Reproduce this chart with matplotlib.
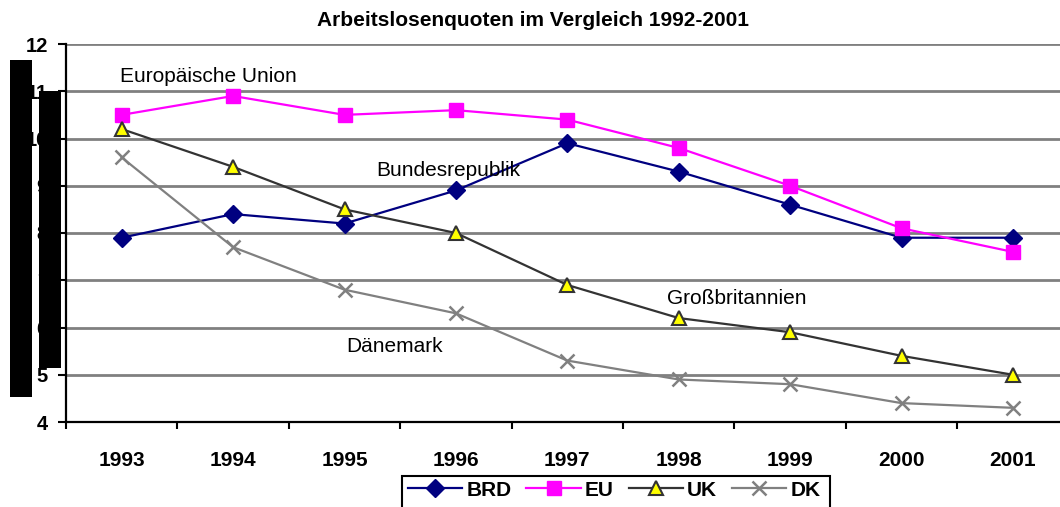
import matplotlib
matplotlib.use("Agg")
import matplotlib.pyplot as plt
from matplotlib.patches import Rectangle
from matplotlib.ticker import FixedLocator

plt.rcParams['font.family'] = ['Liberation Sans', 'DejaVu Sans']

years = ['1993', '1994', '1995', '1996', '1997', '1998', '1999', '2000', '2001']
brd = [7.9, 8.4, 8.2, 8.9, 9.9, 9.3, 8.6, 7.9, 7.9]
eu = [10.5, 10.9, 10.5, 10.6, 10.4, 9.8, 9.0, 8.1, 7.6]
uk = [10.2, 9.4, 8.5, 8.0, 6.9, 6.2, 5.9, 5.4, 5.0]
dk = [9.6, 7.7, 6.8, 6.3, 5.3, 4.9, 4.8, 4.4, 4.3]
yticks = [4, 5, 6, 7, 8, 9, 10, 11, 12]

W, H = 1060, 507
fig = plt.figure(figsize=(W / 100, H / 100), dpi=100)
ax = fig.add_axes([66 / W, 1 - 422 / H, 1002.6 / W, (422 - 44) / H])

x = list(range(len(years)))
ax.plot(x, brd, color='#000080', lw=1.6, marker='D', ms=9.5, mfc='#000080', mec='#000080', label='BRD', zorder=3)
ax.plot(x, eu, color='#FF00FF', lw=1.6, marker='s', ms=10.5, mfc='#FF00FF', mec='#FF00FF', label='EU', zorder=3)
ax.plot(x, uk, color='#333333', lw=1.6, marker='^', ms=10.5, mfc='#FFFF00', mec='#333333', mew=1.5, label='UK', zorder=3)
ax.plot(x, dk, color='#808080', lw=1.6, marker='x', ms=10.5, mew=1.8, label='DK', zorder=3)

ax.set_xlim(-0.5, len(years) - 0.5)
ax.set_ylim(4, 12)
ax.set_yticks(yticks)
ax.set_yticklabels([str(v) for v in yticks], fontsize=14.5, fontweight='bold')
ax.set_xticks(x)
ax.set_xticklabels(years, fontsize=15, fontweight='bold')
ax.tick_params(axis='x', which='major', length=0, pad=21)
ax.xaxis.set_minor_locator(FixedLocator([i - 0.5 for i in range(len(years) + 1)]))
ax.tick_params(axis='x', which='minor', length=5, width=1.5, direction='out')
ax.tick_params(axis='y', length=6, width=1.5, direction='out', pad=7)

for v in yticks[1:]:
    ax.axhline(v, color='#808080', lw=2, zorder=1)

for s in ['top', 'right']:
    ax.spines[s].set_visible(False)
for s in ['left', 'bottom']:
    ax.spines[s].set_linewidth(1.6)
    ax.spines[s].set_color('black')

fig.text(533 / W, 1 - 21 / H, 'Arbeitslosenquoten im Vergleich 1992-2001', ha='center', va='center',
         fontsize=15, fontweight='bold')

ann = [('Europäische Union', 120, 77), ('Bundesrepublik', 376, 171),
       ('Großbritannien', 667, 299), ('Dänemark', 346, 347)]
for t, px, py in ann:
    fig.text(px / W, 1 - py / H, t, ha='left', va='center', fontsize=15)

leg = fig.legend(loc='center left', bbox_to_anchor=(408 / W, 1 - 490 / H), ncol=4,
                 prop={'weight': 'bold', 'size': 15}, frameon=False, handlelength=2.6,
                 handletextpad=0.2, columnspacing=0.72, borderpad=0, borderaxespad=0)

fig.patches.append(Rectangle((402 / W, -0.05), (830 - 402) / W, (1 - 476 / H) + 0.05,
                             transform=fig.transFigure, facecolor='none', edgecolor='black',
                             lw=1.5, zorder=5))

fig.patches.append(Rectangle((10 / W, 1 - 397 / H), 22 / W, 337 / H, transform=fig.transFigure,
                             facecolor='black', edgecolor='none', zorder=10))
fig.patches.append(Rectangle((39 / W, 1 - 368 / H), 22 / W, 277 / H, transform=fig.transFigure,
                             facecolor='black', edgecolor='none', zorder=10))

fig.savefig('out.png', dpi=100)
